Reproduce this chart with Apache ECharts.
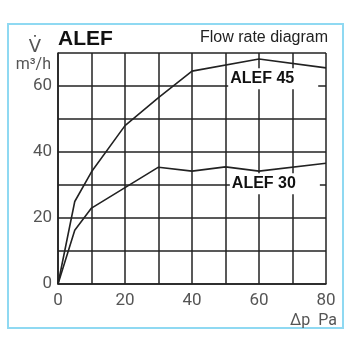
<!DOCTYPE html>
<html><head><meta charset="utf-8">
<script src="https://cdn.jsdelivr.net/npm/echarts@6/dist/echarts.min.js"></script>
<style>html,body{margin:0;padding:0;background:#fff}#c{width:350px;height:350px}</style>
</head><body><div id="c"></div>
<script>
const pressure45 = [0, 5, 10, 20, 30, 40, 60, 80];
const flow45 = [0, 25, 34, 48, 56.5, 64.5, 68.2, 65.5];
const pressure30 = [0, 5, 10, 30, 40, 50, 60, 80];
const flow30 = [0, 16.3, 23, 35.4, 34.2, 35.5, 34.2, 36.6];
const xTicks = [0, 20, 40, 60, 80];
const yTicks = [0, 20, 40, 60];
const seriesNames = ['ALEF 45', 'ALEF 30'];
const labelPos = [[50.8, 62.2], [51.3, 30.4]];

const chart = echarts.init(document.getElementById('c'), null, {renderer: 'canvas'});
const tickFont = {color: '#555', fontSize: 17, fontFamily: 'Roboto, "DejaVu Sans", sans-serif'};
function mkSeries(name, xs, ys, pos) {
  return {
    name: name, type: 'line', data: xs.map((x, i) => [x, ys[i]]),
    symbol: 'none', lineStyle: {color: '#222', width: 1.6}, z: 3,
    markPoint: {
      symbol: 'rect', symbolSize: 0, silent: true,
      data: [{coord: pos, value: name}],
      label: {
        show: true, position: 'inside', align: 'left', verticalAlign: 'middle',
        formatter: name, color: '#111', fontSize: 16, fontWeight: 'bold',
        fontFamily: '"Liberation Sans", Arial, sans-serif',
        backgroundColor: '#fff', padding: [2, 24, 3, 2]
      }
    }
  };
}
chart.setOption({
  animation: false,
  grid: {left: 58, right: 24, top: 53, bottom: 66, containLabel: false},
  xAxis: {
    type: 'value', min: 0, max: 80, interval: 10,
    axisLine: {show: true, lineStyle: {color: '#222', width: 1.6}},
    axisTick: {show: false},
    splitLine: {show: true, lineStyle: {color: '#222', width: 1.5}},
    axisLabel: Object.assign({margin: 8, formatter: v => xTicks.includes(v) ? String(v) : ''}, tickFont)
  },
  yAxis: {
    type: 'value', min: 0, max: 70, interval: 10,
    axisLine: {show: true, lineStyle: {color: '#222', width: 1.6}},
    axisTick: {show: false},
    splitLine: {show: true, lineStyle: {color: '#222', width: 1.5}},
    axisLabel: Object.assign({margin: 6, formatter: v => yTicks.includes(v) ? String(v) : ''}, tickFont)
  },
  graphic: [
    {type: 'rect', shape: {x: 8, y: 24, width: 335, height: 304}, style: {fill: 'none', stroke: '#8fd9f2', lineWidth: 2}, z: 0},
    {type: 'text', left: 58, top: 29, style: {text: 'ALEF', fontSize: 21, fontWeight: 'bold', fill: '#111', fontFamily: '"Liberation Sans", Arial, sans-serif'}},
    {type: 'text', right: 22, top: 30, style: {text: 'Flow rate diagram', fontSize: 16, fill: '#222', fontFamily: '"Liberation Sans", Arial, sans-serif'}},
    {type: 'text', x: 35, y: 47, style: {text: 'V\u0307', fontSize: 18, fill: '#555', align: 'center', verticalAlign: 'middle', fontFamily: '"DejaVu Sans", sans-serif'}},
    {type: 'text', x: 51, y: 65, style: {text: 'm³/h', fontSize: 16, fill: '#555', align: 'right', verticalAlign: 'middle', fontFamily: 'Roboto, "DejaVu Sans", sans-serif'}},
    {type: 'text', x: 337, y: 321, style: {text: 'Δp  Pa', fontSize: 16, fill: '#555', align: 'right', verticalAlign: 'middle', fontFamily: 'Roboto, "DejaVu Sans", sans-serif'}}
  ],
  series: [
    mkSeries(seriesNames[0], pressure45, flow45, labelPos[0]),
    mkSeries(seriesNames[1], pressure30, flow30, labelPos[1])
  ]
});
</script></body></html>
